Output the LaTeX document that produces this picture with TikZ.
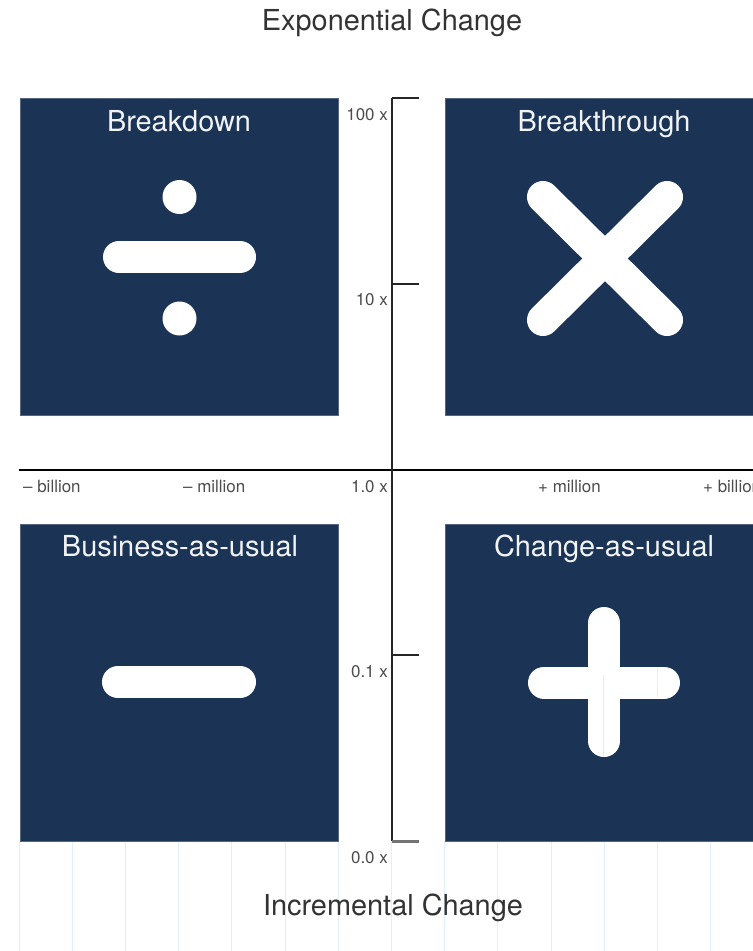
\documentclass[tikz,border=0pt]{standalone}
\usepackage{fontspec}
\setmainfont{TeX Gyre Heros}
\definecolor{navy}{HTML}{1B3354}
\definecolor{gridblue}{HTML}{E2EFFB}
\begin{document}
\begin{tikzpicture}[x=1bp,y=-1bp,
  quad/.style={fill=navy, draw=navy!75!white, line width=0.8bp, minimum width=318bp, minimum height=317bp, inner sep=0, anchor=north west},
  qtitle/.style={text=white!94!navy, font=\fontsize{29}{34}\selectfont, anchor=base, inner sep=0},
  bigtitle/.style={text=black!80, font=\fontsize{29}{34}\selectfont, anchor=base, inner sep=0},
  small/.style={text=black!70, font=\fontsize{17}{20}\selectfont, inner sep=0},
  glyph/.style={white, line width=32bp, line cap=round},
  axis/.style={black!85, line width=2bp},
  gridline/.style={gridblue, line width=1bp}]

\useasboundingbox (0,0) rectangle (753,951);
\fill[white] (0,0) rectangle (753,951);

% faint grid at the bottom
\foreach \i in {0,...,14} \draw[gridline] ({19+53.2*\i},841) -- ({19+53.2*\i},951);

% titles
\node[bigtitle] (exp) at (392,30) {Exponential Change};
\node[bigtitle] (inc) at (393,915) {Incremental Change};

% quadrants
\node[quad] (bd) at (20,98) {};
\node[quad] (bt) at (445,98) {};
\node[quad] (bu) at (20,524) {};
\node[quad] (cu) at (445,524) {};

\node[qtitle] (tbd) at (179,131) {Breakdown};
\node[qtitle] (tbt) at (604,131) {Breakthrough};
\node[qtitle] (tbu) at (180,556) {Business-as-usual};
\node[qtitle] (tcu) at (604,556) {Change-as-usual};

% divide
\fill[white] (179.5,197) circle (17bp);
\draw[glyph] (119,257) -- (240,257);
\fill[white] (179.5,318.5) circle (17bp);

% times
\draw[glyph] (543,197) -- (667,320);
\draw[glyph] (667,197) -- (543,320);

% minus
\draw[glyph] (118,682) -- (240,682);

% plus
\draw[glyph] (544,682.5) -- (664,682.5);
\draw[glyph] (604,623) -- (604,741);
\draw[gridline] (603,675) -- (603,757);
\draw[gridline] (657,668) -- (657,697);

% axes
\coordinate (ytop) at (392,98);
\coordinate (ybot) at (392,841);
\coordinate (xl) at (19,470);
\coordinate (xr) at (760,470);
\coordinate (t100) at (419,98);
\coordinate (y10) at (392,284);
\coordinate (t10) at (419,284);
\coordinate (y01) at (392,655);
\coordinate (t01) at (419,655);
\coordinate (t00) at (419,841);

\draw[black, line width=2bp] (xl) -- (xr);
\draw[axis] (ytop) -- (ybot);
\draw[axis] (ytop) -- (t100);
\draw[axis] (y10) -- (t10);
\draw[axis] (y01) -- (t01);
\draw[black!55, line width=3bp] (ybot) -- (t00);

% scale labels
\node[small, anchor=base east] (l100) at (388,120) {100 x};
\node[small, anchor=base east] (l10) at (388,305) {10 x};
\node[small, anchor=base east] (l1) at (388,492) {1.0 x};
\node[small, anchor=base east] (l01) at (388,677) {0.1 x};
\node[small, anchor=base east] (l00) at (388,863) {0.0 x};

\node[small, anchor=base west] (mb) at (23,492) {– billion};
\node[small, anchor=base west] (mm) at (183,492) {– million};
\node[small, anchor=base west] (pm) at (538,492) {+ million};
\node[small, anchor=base west] (pb) at (703,492) {+ billion};
\end{tikzpicture}
\end{document}
